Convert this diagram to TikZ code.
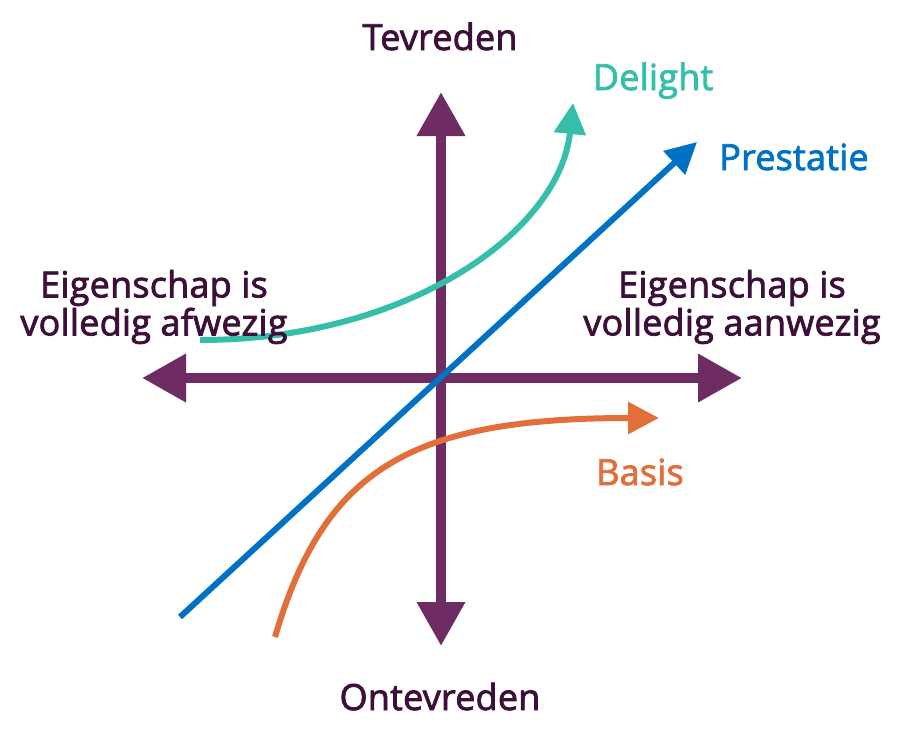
\documentclass[tikz,border=0pt]{standalone}
\usepackage{fontspec}
\newfontfamily\lbl{Open Sans}[FakeBold=2.2, LetterSpace=0.6]
\usetikzlibrary{arrows.meta}
\definecolor{axis}{HTML}{6E2C63}
\definecolor{txt}{HTML}{3C1038}
\definecolor{teal}{HTML}{35BFAA}
\definecolor{blu}{HTML}{0072C6}
\definecolor{orng}{HTML}{E26E3A}
\tikzset{
  axisline/.style={draw=axis, line width=10pt, {Triangle[length=44pt,width=46pt]}-{Triangle[length=44pt,width=46pt]}},
  curve/.style={line width=6pt, -{Triangle[length=31pt,width=31pt]}},
  lab/.style={font=\lbl\fontsize{36}{38}\selectfont, text=txt, align=center, inner sep=0pt},
}
\begin{document}
\begin{tikzpicture}[x=1pt,y=-1pt]
\useasboundingbox (0,0) rectangle (900,745);
% axes end points
\coordinate (top) at (441,92);
\coordinate (bot) at (441,646);
\coordinate (lft) at (142,378);
\coordinate (rgt) at (742,378);
\draw[axisline] (bot) -- (top);
\draw[axisline] (lft) -- (rgt);
% curves
\coordinate (ts) at (200,340);
\coordinate (te) at (573,103);
\draw[curve, draw=teal, teal] (ts) .. controls (410,340) and (560,230) .. (te);
\coordinate (bs) at (180,617);
\coordinate (be) at (697,142);
\draw[curve, draw=blu, blu] (bs) -- (be);
\coordinate (os) at (275,637);
\coordinate (oe) at (659,418);
\draw[curve, draw=orng, orng] (os) .. controls (324,470) and (409,418) .. (oe);
% labels
\node[lab, anchor=base] (tev) at (440,50) {Tevreden};
\node[lab, anchor=base] (ontev) at (440,710) {Ontevreden};
\node[lab, anchor=base, text=teal] (del) at (653,90) {Delight};
\node[lab, anchor=base, text=blu] (pre) at (794,170) {Prestatie};
\node[lab, anchor=base, text=orng] (bas) at (640,485) {Basis};
\node[lab] (afw) at (154,307) {Eigenschap is\\volledig afwezig};
\node[lab] (aanw) at (732,307) {Eigenschap is\\volledig aanwezig};
\end{tikzpicture}
\end{document}
